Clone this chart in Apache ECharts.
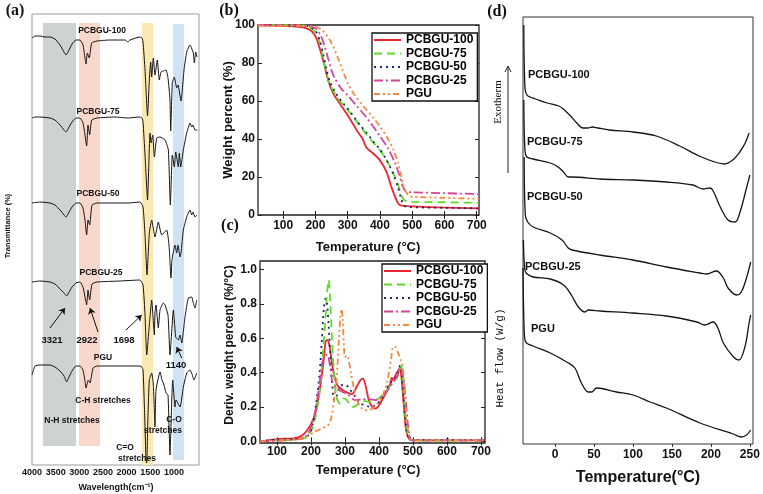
<!DOCTYPE html>
<html><head><meta charset="utf-8">
<script src="https://cdn.jsdelivr.net/npm/echarts@6/dist/echarts.min.js"></script>
<style>html,body{margin:0;padding:0;background:#fff}#c{width:763px;height:494px}</style>
</head><body><div id="c"></div><script>
// ---------- DATA ----------
const names = ['PCBGU-100','PCBGU-75','PCBGU-50','PCBGU-25','PGU'];
// (a) FTIR: [wavenumber cm-1, transmittance a.u.]
const irPCBGU100 = [[4000,427],[3937,429],[3831,429],[3725,428],[3619,428],[3514,426],[3408,420],[3323,413],[3281,410],[3239,413],[3154,421],[3070,425],[2985,425],[2922,420],[2880,407],[2858,401],[2831,412],[2789,407],[2738,422],[2626,424],[2351,425],[2034,425],[1971,423],[1928,425],[1717,428],[1675,427],[1653,423],[1611,395],[1558,349],[1520,385],[1491,403],[1470,388],[1435,407],[1400,390],[1351,405],[1309,385],[1273,393],[1224,394],[1167,395],[1125,387],[1083,365],[1068,334],[1034,382],[992,388],[941,377],[914,380],[850,364],[787,395],[730,413],[660,420],[628,417],[590,412],[569,402],[539,413],[512,408]];
const irPCBGU75 = [[4000,347],[3937,348],[3831,348],[3619,347],[3514,345],[3408,340],[3323,335],[3281,333],[3239,336],[3154,343],[3070,347],[2985,347],[2922,342],[2880,330],[2845,319],[2816,340],[2781,330],[2738,345],[2626,347],[2245,348],[1971,347],[1717,348],[1675,347],[1653,343],[1611,310],[1558,265],[1506,332],[1484,322],[1448,330],[1414,308],[1364,327],[1294,328],[1188,325],[1118,315],[1076,260],[1034,310],[992,298],[962,313],[907,298],[886,312],[856,298],[801,315],[730,332],[660,342],[624,338],[597,340],[554,335],[505,335]];
const irPCBGU50 = [[4000,262],[3831,263],[3619,262],[3514,260],[3408,255],[3323,250],[3281,248],[3239,251],[3154,258],[3070,262],[2985,262],[2922,257],[2880,245],[2845,230],[2816,245],[2781,240],[2732,260],[2626,262],[1971,262],[1717,263],[1653,258],[1611,230],[1569,190],[1520,232],[1470,245],[1400,228],[1330,243],[1258,230],[1153,235],[1104,220],[1062,187],[1041,205],[977,220],[941,212],[914,220],[871,208],[850,212],[801,235],[730,248],[660,255],[624,250],[597,253],[554,248],[512,250]];
const irPCBGU25 = [[4000,183],[3831,184],[3619,183],[3514,181],[3408,176],[3323,172],[3267,169],[3239,171],[3154,178],[3070,182],[2985,183],[2922,178],[2880,168],[2845,160],[2816,175],[2781,165],[2732,181],[2626,183],[2140,184],[1717,185],[1653,180],[1611,150],[1575,110],[1520,140],[1470,165],[1414,130],[1400,153],[1379,160],[1330,137],[1294,155],[1224,162],[1188,160],[1125,150],[1083,110],[1012,155],[962,128],[907,125],[870,130],[835,122],[766,148],[696,167],[624,168],[597,163],[554,157],[519,165]];
const irPGU = [[4000,90],[3937,99],[3831,100],[3619,100],[3514,98],[3408,94],[3323,89],[3267,83],[3239,86],[3154,94],[3070,99],[2985,99],[2922,95],[2880,84],[2858,77],[2810,85],[2774,82],[2710,97],[2626,99],[2140,99],[1717,99],[1675,98],[1653,95],[1625,60],[1590,5],[1575,2],[1548,50],[1520,85],[1470,92],[1435,80],[1400,38],[1379,75],[1294,93],[1252,85],[1210,80],[1167,72],[1125,70],[1083,10],[1062,40],[1026,85],[977,58],[956,65],[871,58],[801,78],[730,92],[660,95],[618,91],[575,85],[519,92]];
const irBandFrom = [3767, 3006, 1675, 1019];
const irBandTo = [3070, 2562, 1442, 787];
const irBandTop = [442, 442, 442, 441];
const irBandBottom = [19, 19, 0, 5];
const irTicks = [4000,3500,3000,2500,2000,1500,1000];
// (b) TGA: [temperature °C, weight %]
const tgaPCBGU100 = [[22,99.8],[100,99.5],[150,99],[172,98.2],[188,96.8],[203,93],[218,85],[229,78],[239,71],[255,64],[275,58.8],[296,53.5],[316,48],[332,43.5],[345,40.5],[358,35.5],[378,32.5],[399,29],[420,22.8],[435,15],[451,7.9],[461,5.3],[481,4.7],[584,4],[707,3.5]];
const tgaPCBGU75 = [[22,100],[150,99.8],[172,99.5],[198,96.5],[213,91],[223,83],[234,75],[244,69],[260,64],[275,60],[300,55.5],[320,51],[340,46.5],[360,42],[380,38],[400,34],[420,29],[440,22.5],[455,16.5],[465,11],[475,8],[490,7],[600,6.7],[707,6.4]];
const tgaPCBGU50 = [[22,100],[150,99.8],[180,99.2],[200,97],[215,91],[225,84],[235,76],[245,70],[260,65],[280,60],[300,56],[320,51.5],[340,47],[360,43],[380,38.5],[400,34.5],[420,29],[440,22],[455,15],[465,9],[475,5],[490,4.2],[600,3.8],[707,3.5]];
const tgaPCBGU25 = [[22,100],[150,99.8],[180,99.3],[200,98.3],[215,95],[228,89],[240,82],[250,76],[260,72],[280,66.5],[300,63],[325,58],[350,53],[375,47.5],[400,41.5],[425,35],[445,28],[460,21],[470,15.5],[480,12.5],[500,12],[600,11.5],[707,11]];
const tgaPGU = [[22,99.7],[150,99.6],[200,99],[215,98],[230,95.6],[250,90.5],[270,82.5],[290,73.7],[300,69.5],[320,63.5],[350,57],[380,51],[400,46.5],[420,41.5],[440,35],[455,28],[465,21],[475,14],[490,10],[500,9.6],[600,9],[707,8.5]];
const tempTicks = [100,200,300,400,500,600,700];
const weightTicks = [0,20,40,60,80,100];
// (c) DTG: [temperature °C, %/°C]
const dtgPCBGU100 = [[50,0],[88,0.01],[120,0.015],[150,0.017],[175,0.035],[200,0.1],[215,0.18],[225,0.29],[235,0.43],[243,0.58],[248,0.59],[255,0.55],[262,0.45],[270,0.37],[280,0.32],[300,0.29],[320,0.275],[335,0.32],[345,0.355],[353,0.365],[360,0.33],[370,0.24],[380,0.2],[390,0.19],[400,0.21],[420,0.28],[432,0.33],[438,0.37],[442,0.355],[450,0.39],[460,0.42],[465,0.39],[470,0.28],[475,0.16],[480,0.064],[490,0.01],[500,0.005],[600,0.005],[712,0.005]];
const dtgPCBGU75 = [[50,0],[100,0.005],[150,0.01],[180,0.018],[190,0.025],[205,0.08],[215,0.16],[225,0.28],[235,0.51],[242,0.7],[248,0.88],[252,0.94],[256,0.84],[262,0.59],[268,0.39],[275,0.26],[285,0.22],[295,0.25],[305,0.24],[315,0.21],[325,0.2],[340,0.22],[355,0.235],[370,0.23],[385,0.24],[400,0.25],[420,0.29],[440,0.34],[455,0.375],[465,0.44],[470,0.355],[475,0.2],[482,0.064],[490,0.01],[500,0.005],[712,0.004]];
const dtgPCBGU50 = [[50,0],[100,0.01],[150,0.012],[190,0.03],[205,0.1],[215,0.22],[225,0.39],[232,0.59],[238,0.78],[243,0.83],[247,0.81],[252,0.67],[258,0.47],[263,0.32],[268,0.24],[275,0.26],[285,0.32],[300,0.33],[315,0.3],[330,0.26],[345,0.22],[360,0.21],[375,0.2],[390,0.21],[405,0.24],[420,0.3],[440,0.355],[455,0.39],[462,0.44],[468,0.375],[475,0.2],[482,0.054],[490,0.01],[500,0.008],[595,0.008],[602,0.015],[610,0.008],[712,0.006]];
const dtgPCBGU25 = [[50,0],[100,0.003],[150,0.01],[180,0.02],[200,0.08],[215,0.2],[225,0.34],[235,0.47],[242,0.5],[248,0.505],[255,0.45],[262,0.355],[270,0.32],[280,0.3],[290,0.29],[310,0.27],[330,0.24],[350,0.245],[370,0.245],[390,0.24],[410,0.26],[430,0.31],[445,0.355],[455,0.385],[462,0.43],[470,0.39],[478,0.26],[485,0.1],[493,0.01],[500,0.005],[712,0.005]];
const dtgPGU = [[50,0],[100,0.005],[150,0.01],[180,0.02],[210,0.054],[230,0.074],[250,0.093],[260,0.14],[268,0.24],[275,0.355],[282,0.59],[287,0.74],[290,0.77],[293,0.72],[297,0.55],[300,0.49],[305,0.5],[310,0.48],[318,0.39],[325,0.32],[335,0.24],[350,0.19],[365,0.18],[380,0.19],[395,0.22],[410,0.26],[425,0.355],[435,0.47],[442,0.55],[448,0.55],[455,0.52],[465,0.47],[470,0.43],[475,0.32],[480,0.16],[487,0.045],[495,0.01],[500,0.005],[712,0.005]];
const dtgTicks = [0,0.2,0.4,0.6,0.8,1.0];
// (d) DSC: [temperature °C, heat flow a.u.]
const dscPCBGU100 = [[-40,419],[-38.5,356],[-36,349],[-32,347],[-25,345],[-10,341],[5,338],[12,334],[20,328],[28,321],[36,316],[42,316],[48,317],[55,316],[70,314],[100,312],[130,308],[160,298],[185,288],[205,282],[218,280],[228,284],[237,292],[244,301],[249,311]];
const dscPCBGU75 = [[-40,344],[-38.5,294],[-36,287],[-28,285],[-6,281],[4,277],[11,272],[17,267],[21,267],[58,265],[100,264],[143,262],[177,259],[190,255],[199,256],[203,253],[212,237],[222,224],[231,222],[237,231],[246,257],[250,269]];
const dscPCBGU50 = [[-39.5,287],[-38,229],[-35,222],[-28,217],[-6,211],[9,204],[17,196],[22,194],[57,189],[100,184],[143,177],[186,171],[194.5,170],[207,173],[216,166],[222,156],[233,149],[239,152],[246,167],[251,182]];
const dscPCBGU25 = [[-40.5,204],[-39,176],[-37,171],[-28,167],[-6,165],[11,159],[21,149],[30,137],[38.5,132],[43,134],[58,133],[100,131],[143,128],[182,122],[192,119],[203,122],[209,116],[216,101],[229,87],[236,84],[243.6,97],[249,121],[251,129]];
const dscPGU = [[-41,176],[-39.5,114],[-37.5,102],[-28,98],[-6,91],[15,82],[25.6,76],[34,61],[42.7,52],[47,52],[53.4,56],[79,52],[100,49],[122,42],[143,36],[186,21],[228.7,10],[239,7],[245.8,9],[251,14]];
const dscTicks = [0,50,100,150,200,250];

// ---------- STYLE ----------
const F = '"Liberation Sans", Arial, Helvetica, sans-serif';
const colors = ['#ec2434','#5fdc2a','#1d2b6c','#d4469c','#f58a3c'];
const dashes = ['solid',[8,5],[2,4],[9,3,2,3],[6,3,2,3,2,3]];
const irData = [irPCBGU100, irPCBGU75, irPCBGU50, irPCBGU25, irPGU];
const tgaData = [tgaPCBGU100, tgaPCBGU75, tgaPCBGU50, tgaPCBGU25, tgaPGU];
const dtgData = [dtgPCBGU100, dtgPCBGU75, dtgPCBGU50, dtgPCBGU25, dtgPGU];
const dscData = [dscPCBGU100, dscPCBGU75, dscPCBGU50, dscPCBGU25, dscPGU];
const bandColors = ['#cdd3cf','#f9d7cb','#fbe9b3','#d0e3f4'];

const chart = echarts.init(document.getElementById('c'), null, {renderer:'canvas'});

const boldLbl = (size, extra) => Object.assign({fontFamily:F, fontWeight:'bold', fontSize:size, color:'#111'}, extra||{});
const hidden = {show:false};
function frameAxis(grid, pos, min, max, ticks) {
  return {type:'value', gridIndex:grid, position:pos, min:min, max:max,
    axisLine:hidden, splitLine:hidden, axisLabel:hidden,
    axisTick:{show:true, inside:true, length:4, customValues:ticks, lineStyle:{color:'#222', width:1}}};
}

const xAxis = [
  {type:'value', gridIndex:0, inverse:true, min:470, max:4000, axisLine:hidden, axisTick:hidden, splitLine:hidden,
   axisLabel:boldLbl(9, {customValues:irTicks, margin:3, formatter:v=>String(v)})},
  {type:'value', gridIndex:1, min:22, max:707, axisLine:hidden, splitLine:hidden,
   axisTick:{inside:true, length:4, customValues:tempTicks, lineStyle:{color:'#222'}},
   axisLabel:boldLbl(12, {customValues:tempTicks, margin:5})},
  frameAxis(1, 'top', 22, 707, tempTicks),
  {type:'value', gridIndex:2, min:50, max:712, axisLine:hidden, splitLine:hidden,
   axisTick:{inside:true, length:4, customValues:tempTicks, lineStyle:{color:'#222'}},
   axisLabel:boldLbl(12, {customValues:tempTicks, margin:3})},
  frameAxis(2, 'top', 50, 712, tempTicks),
  {type:'value', gridIndex:3, min:-41, max:254, axisLine:hidden, splitLine:hidden,
   axisTick:{inside:false, length:3, customValues:dscTicks, lineStyle:{color:'#333'}},
   axisLabel:boldLbl(12, {customValues:dscTicks, margin:5})}
];
const yAxis = [
  {type:'value', gridIndex:0, min:0, max:451, axisLine:hidden, axisTick:hidden, splitLine:hidden, axisLabel:hidden},
  {type:'value', gridIndex:1, min:0, max:100, interval:20, axisLine:hidden, splitLine:hidden,
   axisTick:{inside:true, length:4, lineStyle:{color:'#222'}}, axisLabel:boldLbl(12, {margin:3})},
  frameAxis(1, 'right', 0, 100, weightTicks),
  {type:'value', gridIndex:2, min:-0.01, max:1.05, axisLine:hidden, splitLine:hidden,
   axisTick:{inside:true, length:4, customValues:dtgTicks, lineStyle:{color:'#222'}},
   axisLabel:boldLbl(12, {customValues:dtgTicks, margin:3, formatter:v=>v.toFixed(1)})},
  frameAxis(2, 'right', -0.01, 1.05, dtgTicks),
  {type:'value', gridIndex:3, min:0, max:427, axisLine:hidden, axisTick:hidden, splitLine:hidden, axisLabel:hidden}
];

const series = [];
tgaData.forEach((d,i)=>series.push({name:names[i], type:'line', xAxisIndex:1, yAxisIndex:1, data:d, symbol:'none', smooth:0.3, z:3,
  lineStyle:{color:colors[i], width:1.8, type:dashes[i]}, itemStyle:{color:colors[i]}}));
dtgData.forEach((d,i)=>series.push({name:names[i], type:'line', xAxisIndex:3, yAxisIndex:3, data:d, symbol:'none', smooth:0.3, z:3,
  lineStyle:{color:colors[i], width:1.8, type:dashes[i]}, itemStyle:{color:colors[i]}}));
series.push({
  name:'ir-bands', type:'line', xAxisIndex:0, yAxisIndex:0, data:[], symbol:'none', silent:true, z:1,
  markArea:{silent:true, data: irBandFrom.map((f,i)=>[
    {xAxis:f, yAxis:irBandBottom[i], itemStyle:{color:bandColors[i]}},
    {xAxis:irBandTo[i], yAxis:irBandTop[i]}])}
});
series.push({
  name:'ir-arrows', type:'line', xAxisIndex:0, yAxisIndex:0, data:[], symbol:'none', silent:true, z:6,
  markLine:{silent:true, symbol:['none','arrow'], symbolSize:6, label:hidden,
    lineStyle:{color:'#111', width:1, type:'solid'},
    data:[
      [{coord:[3619,137]},{coord:[3302,157]}],
      [{coord:[2605,133]},{coord:[2774,157]}],
      [{coord:[2013,135]},{coord:[1681,150]}],
      [{coord:[835,107]},{coord:[941,118]}]
    ]}
});
irData.forEach((d,i)=>series.push({name:'FTIR '+names[i], type:'line', xAxisIndex:0, yAxisIndex:0, data:d, symbol:'none', smooth:0.15, z:5,
  lineStyle:{color:'#151515', width:1}}));
dscData.forEach((d,i)=>series.push({name:'DSC '+names[i], type:'line', xAxisIndex:5, yAxisIndex:5, data:d, symbol:'none', smooth:0.35, z:3,
  lineStyle:{color:'#151515', width:1.3}}));

function T(x, y, text, size, opts) {
  opts = opts || {};
  return {type:'text', x:x, y:y, rotation:opts.rot||0, silent:true, z:100,
    style:{text:text, fill:'#111', fontSize:size, fontFamily:opts.family||F, fontWeight:opts.weight||'bold',
      align:opts.align||'center', verticalAlign:'middle', textAlign:opts.align||'center', textVerticalAlign:'middle'}};
}
const R = Math.PI/2;
const SERIF = '"Liberation Serif", "Times New Roman", serif';
const MONO = '"Liberation Mono", "Courier New", monospace';
const graphics = [
  T(15,11,'(a)',16,{family:SERIF}), T(229,11,'(b)',16,{family:SERIF}), T(230,226,'(c)',16,{family:SERIF}), T(497,12,'(d)',16,{family:SERIF}),
  // (a)
  T(102,31,'PCBGU-100',8.5), T(98,112,'PCBGU-75',8.5), T(98,194,'PCBGU-50',8.5), T(101,273,'PCBGU-25',8.5), T(103,358,'PGU',8.5),
  T(52,340,'3321',9.5), T(87,340,'2922',9.5), T(124,340,'1698',9.5), T(176,365,'1140',9.5),
  T(103,401,'C-H stretches',8.5), T(72,421,'N-H stretches',8.5), T(174,420,'C-O',8.5), T(163,431,'stretches',8.5),
  T(125,448,'C=O',8.5), T(137,459,'stretches',8.5),
  T(116,488,'Wavelength(cm\u207B\u00B9)',9), T(8,226,'Transmittance (%)',7.5,{rot:R}),
  // (b),(c)
  T(368,247,'Temperature (\u00B0C)',13), T(228,120,'Weight percent (%)',13,{rot:R}),
  T(368,470,'Temperature (\u00B0C)',13), T(230,345,'Deriv. weight percent (%/\u00B0C)',12,{rot:R}),
  // (d)
  T(528,75,'PCBGU-100',11,{align:'left'}), T(527,142,'PCBGU-75',11,{align:'left'}), T(527,197,'PCBGU-50',11,{align:'left'}),
  T(525,267,'PCBGU-25',11,{align:'left'}), T(531,329,'PGU',11,{align:'left'}),
  T(638,478,'Temperature(\u00B0C)',16),
  T(498,102,'Exotherm',11,{rot:R, family:SERIF, weight:'normal'}),
  T(500,358,'Heat flow (W/g)',11,{rot:R, family:MONO, weight:'normal'}),
  {type:'polyline', silent:true, shape:{points:[[508,173],[508,67]]}, style:{stroke:'#222', lineWidth:1, fill:null}},
  {type:'polyline', silent:true, shape:{points:[[505,72],[508,66],[511,72]]}, style:{stroke:'#222', lineWidth:1, fill:null}}
];

const legendBase = {data:names, orient:'vertical', itemWidth:27, itemHeight:14, itemGap:1.5, padding:[1,4,1,1],
  borderColor:'#111', borderWidth:1.3, backgroundColor:'#fff', selectedMode:false,
  itemStyle:{opacity:0, color:'rgba(0,0,0,0)', borderWidth:0},
  textStyle:{fontFamily:F, fontWeight:'bold', fontSize:12, color:'#000'}};

chart.setOption({
  animation:false,
  backgroundColor:'#fff',
  grid:[
    {left:32, top:14, width:167, height:451, show:true, borderColor:'#9a9a9a', borderWidth:1, backgroundColor:'transparent'},
    {left:258, top:25, width:221, height:190, show:true, borderColor:'#222', borderWidth:1.3},
    {left:260, top:261, width:225, height:182, show:true, borderColor:'#222', borderWidth:1.3},
    {left:523, top:17, width:230, height:427, show:true, borderColor:'#333', borderWidth:1}
  ],
  xAxis:xAxis, yAxis:yAxis, series:series,
  legend:[Object.assign({}, legendBase, {left:372, top:33}), Object.assign({}, legendBase, {left:382, top:264})],
  graphic:graphics
});
</script></body></html>
